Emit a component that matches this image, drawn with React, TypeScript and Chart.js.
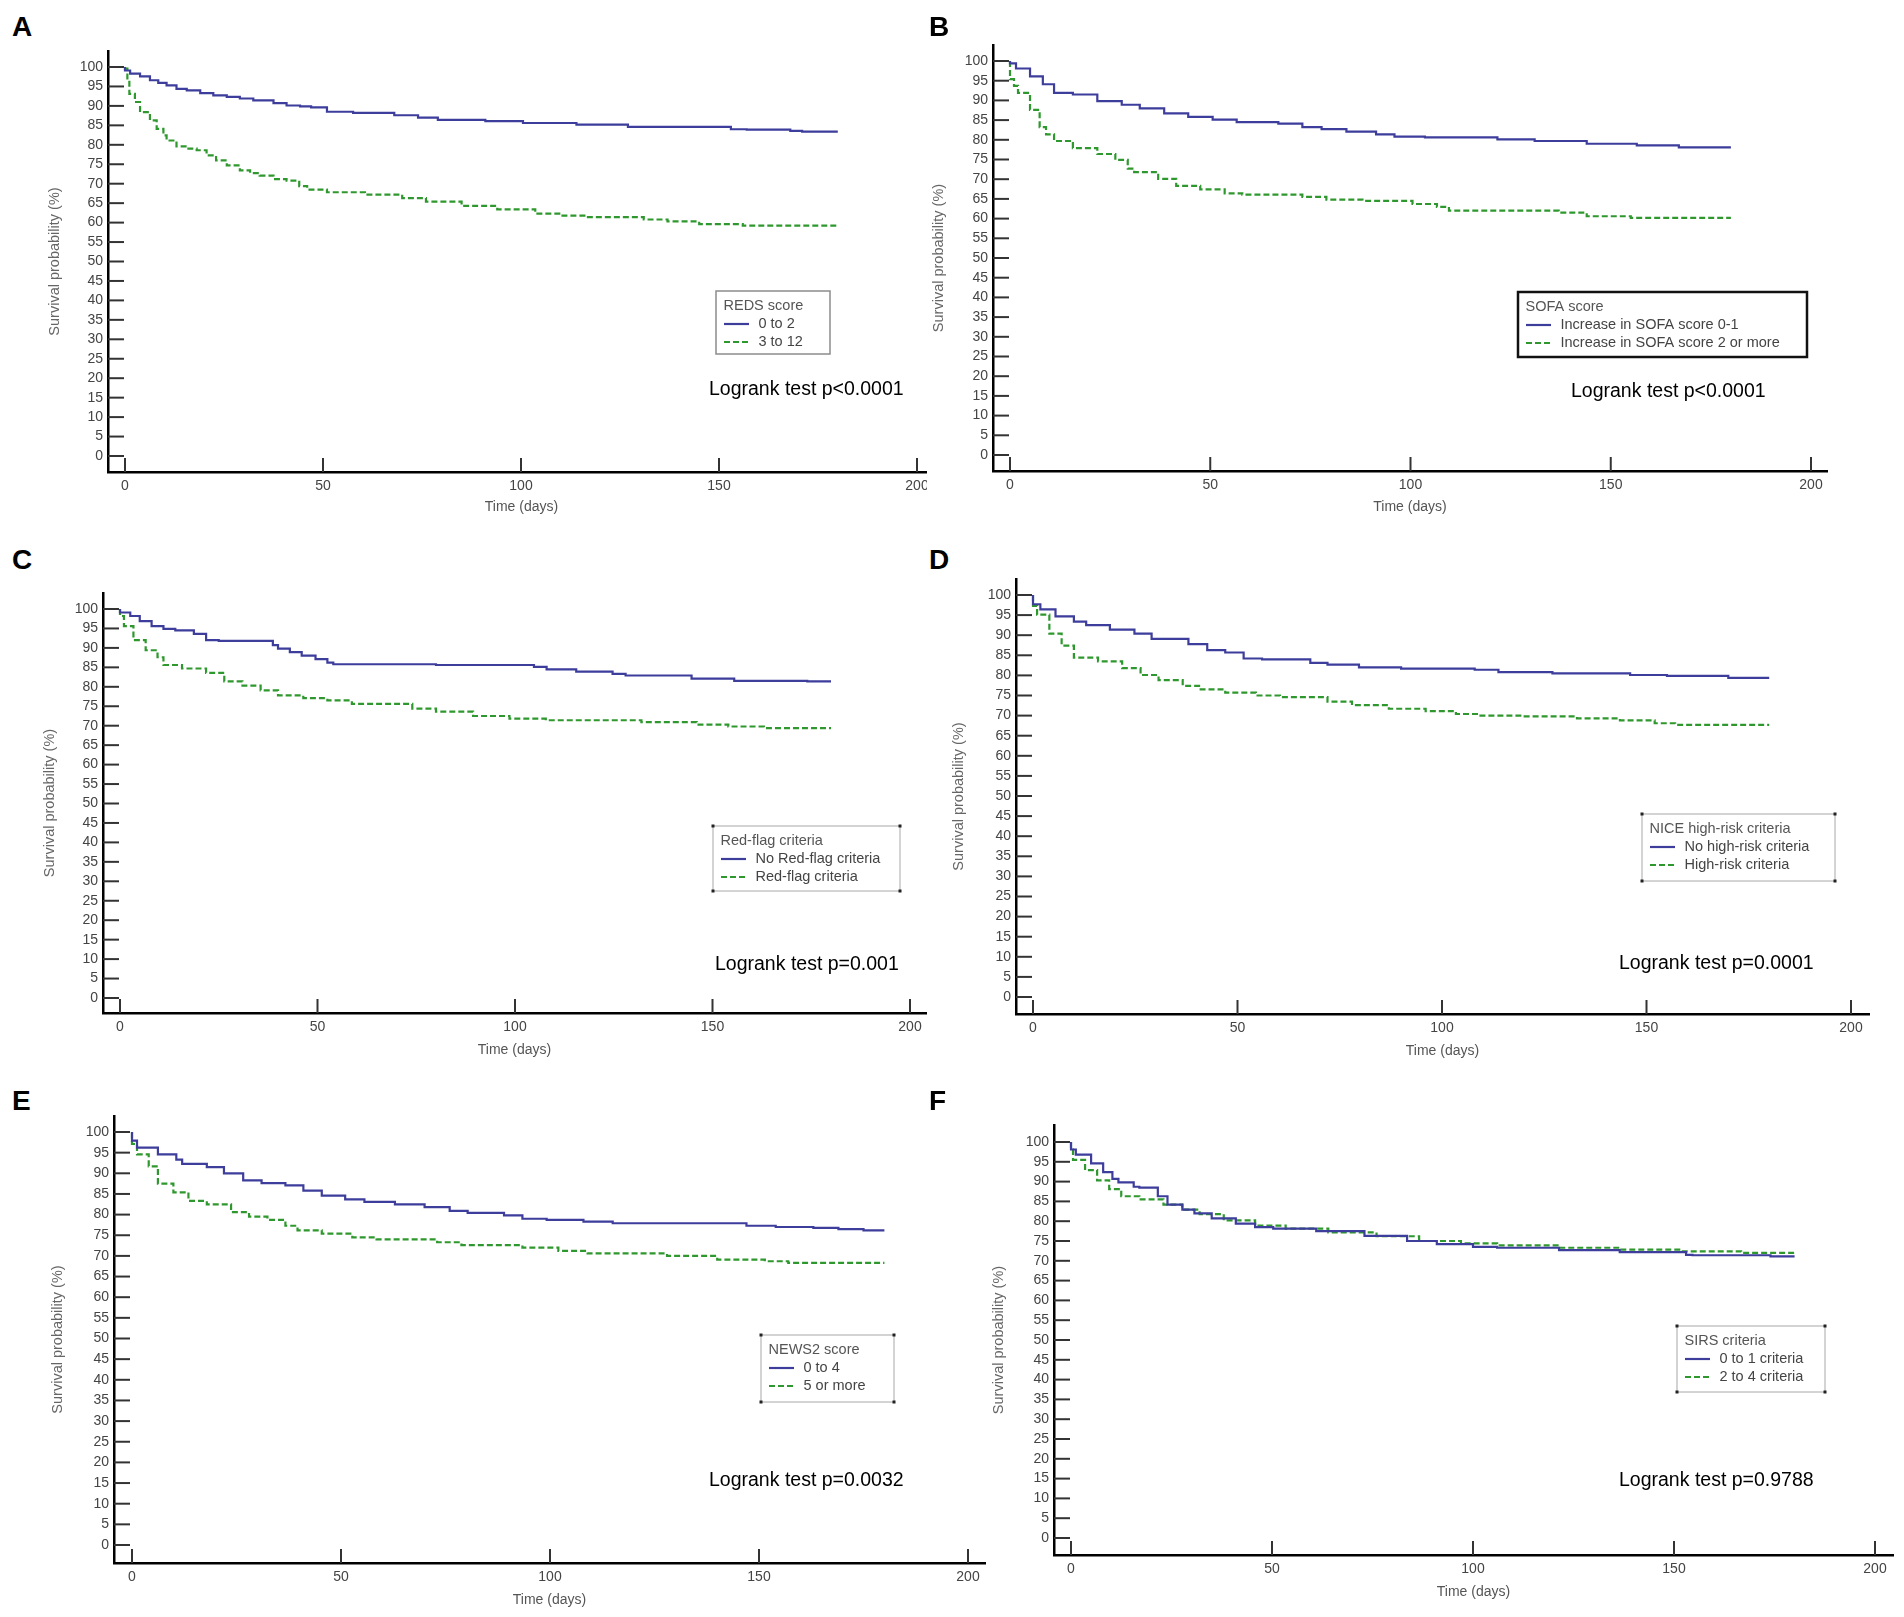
import React, { useEffect, useRef } from 'react';
import { Chart, registerables } from 'chart.js';

Chart.register(...registerables);

const X_TICKS = [0, 50, 100, 150, 200];
const Y_TICKS = [0, 5, 10, 15, 20, 25, 30, 35, 40, 45, 50, 55, 60, 65, 70, 75, 80, 85, 90, 95, 100];

// A - REDS score
const TIME_A_LOW = [0, 1.3, 3.8, 6.3, 8.4, 10.5, 13, 15.6, 19, 22.3, 25.7, 29, 32.4, 37.5, 40.8, 44.2, 47, 51, 57.6, 68, 74, 79, 91, 100.5, 114, 127, 153, 157, 168, 171, 180];
const SURV_A_LOW = [100, 99.1, 98.3, 97.6, 96.6, 95.9, 95.3, 94.4, 94.0, 93.3, 92.7, 92.3, 91.9, 91.4, 90.7, 90.1, 89.9, 89.6, 88.5, 88.2, 87.6, 87.0, 86.4, 86.1, 85.6, 85.2, 84.6, 84.0, 83.9, 83.6, 83.4];
const TIME_A_HIGH = [0, 0.6, 1.1, 2.5, 3.8, 6.3, 8, 9.7, 10.5, 13, 15.6, 18.1, 20.6, 23, 25.7, 29, 31.6, 34, 37.5, 40.8, 44, 46, 51, 60.6, 70, 76, 85, 94, 103.6, 110, 116, 131, 137, 145, 156, 180];
const SURV_A_HIGH = [100, 99.6, 96.6, 93.1, 91.0, 88.4, 86.3, 84.1, 82.4, 81.1, 79.6, 79.0, 78.6, 77.3, 76.0, 74.7, 73.4, 72.7, 72.1, 71.2, 70.8, 69.4, 68.5, 67.8, 67.2, 66.3, 65.4, 64.3, 63.4, 62.3, 61.8, 61.4, 60.8, 60.3, 59.6, 59.2];

// B - SOFA score
const TIME_B_LOW = [0, 1.5, 5, 8.2, 11, 15.7, 21.8, 27.9, 32.4, 38.5, 44.5, 50.6, 56.6, 67, 73, 77.8, 84, 91.4, 96, 103.6, 121.7, 131, 144, 156.5, 167, 180];
const SURV_B_LOW = [100, 99.4, 98.1, 96.1, 94.1, 91.9, 91.5, 89.8, 88.9, 88.0, 86.7, 85.8, 85.1, 84.5, 84.1, 83.2, 82.7, 82.1, 81.4, 80.8, 80.6, 80.1, 79.7, 79.0, 78.6, 78.1];
const TIME_B_HIGH = [0, 1, 2, 5, 7.4, 9, 11, 15.7, 21.8, 26.3, 29.4, 31, 37, 41.5, 47.5, 53.6, 58, 73, 79, 88, 100.5, 106.6, 109.6, 117, 137, 144, 155, 180];
const SURV_B_HIGH = [100, 95.4, 93.7, 91.9, 87.6, 83.2, 81.4, 79.7, 77.9, 76.4, 74.9, 72.7, 71.8, 70.1, 68.3, 67.4, 66.4, 66.1, 65.5, 64.8, 64.5, 63.7, 63.0, 62.0, 62.0, 61.5, 60.6, 60.2];

// C - Red-flag criteria
const TIME_C_LOW = [0, 2.6, 5, 8, 11, 14, 18.7, 21.8, 25, 38.7, 40, 43, 46, 49.5, 52.5, 54, 80, 104.8, 108, 115.5, 124.7, 128, 144.7, 155.5, 174, 180];
const SURV_C_LOW = [100, 99.1, 98.2, 96.9, 95.6, 94.9, 94.5, 93.6, 92.0, 91.8, 90.7, 89.8, 88.9, 88.0, 87.1, 86.2, 85.8, 85.6, 85.1, 84.5, 83.9, 83.3, 82.9, 82.1, 81.5, 81.4];
const TIME_C_HIGH = [0, 1, 3.4, 6.5, 9.5, 11, 15.7, 21.8, 26.4, 31, 35.6, 40, 46.4, 52.5, 58.7, 74, 80, 89.4, 98.6, 107.8, 117, 132, 146, 154, 163, 180];
const SURV_C_HIGH = [100, 98.2, 95.6, 92.0, 89.4, 87.6, 85.6, 84.7, 83.6, 81.4, 80.3, 79.1, 77.8, 77.1, 76.5, 75.6, 74.4, 73.6, 72.5, 71.8, 71.4, 71.4, 70.9, 70.3, 69.8, 69.4];

// D - NICE high-risk criteria
const TIME_D_LOW = [0, 1.8, 5.5, 10, 13, 18.8, 24.8, 29, 32, 38, 42.6, 47, 51.5, 56, 67.8, 72, 79.7, 90, 108, 113.8, 127, 146, 155, 170, 173, 180];
const SURV_D_LOW = [100, 97.7, 96.4, 94.7, 93.4, 92.5, 91.4, 90.4, 89.1, 89.1, 87.8, 86.3, 85.7, 84.2, 84.0, 83.1, 82.7, 82.0, 81.7, 81.4, 80.8, 80.5, 80.1, 79.9, 79.4, 79.4];
const TIME_D_HIGH = [0, 1, 4, 7, 10, 15.9, 21.8, 26.3, 30.7, 36.6, 41, 47, 54.5, 60.4, 72, 78, 87, 96, 103.4, 109, 119.7, 133, 143.5, 152, 157, 180];
const SURV_D_HIGH = [100, 97.3, 95.1, 90.4, 87.4, 84.4, 83.5, 81.8, 80.1, 78.8, 77.4, 76.5, 75.7, 75.0, 74.6, 73.5, 72.6, 71.7, 71.1, 70.4, 70.0, 69.8, 69.3, 68.8, 68.1, 67.7];

// E - NEWS2 score
const TIME_E_LOW = [0, 1.2, 6.2, 10.6, 12, 17.9, 22, 26.6, 31, 36.7, 41, 45.4, 51, 55.6, 62.9, 70, 76, 80.3, 89, 93.4, 99.2, 108, 115, 125, 147, 154, 163, 169, 175, 180];
const SURV_E_LOW = [100, 97.9, 96.2, 94.6, 93.3, 92.3, 91.5, 90.0, 88.3, 87.6, 87.1, 85.8, 84.6, 83.7, 83.1, 82.5, 81.8, 80.9, 80.4, 79.8, 79.0, 78.7, 78.3, 77.9, 77.9, 77.3, 77.0, 76.8, 76.5, 76.2];
const TIME_E_HIGH = [0, 1.2, 4, 6.2, 9.9, 13.5, 17.9, 23.7, 28, 32.4, 36.7, 39.6, 45.4, 52.7, 58.5, 73, 78.8, 93.4, 102, 109, 128, 140, 151.4, 157, 180];
const SURV_E_HIGH = [100, 97.1, 94.6, 91.7, 87.5, 85.4, 83.3, 82.5, 80.6, 79.5, 78.7, 77.3, 76.2, 75.4, 74.5, 74.0, 73.3, 72.6, 72.0, 71.2, 70.6, 70.0, 69.1, 68.7, 68.3];

// F - SIRS criteria
const TIME_F_LOW = [0, 1.2, 5, 8, 10.3, 11.8, 15.6, 17, 21.6, 24, 27.7, 30.7, 35, 41, 45.8, 50.3, 61, 73, 83.6, 91, 100, 106, 121.4, 136.5, 153, 154.6, 174, 180];
const SURV_F_LOW = [100, 98.1, 96.8, 94.6, 92.4, 90.7, 89.8, 88.7, 88.5, 86.3, 84.2, 82.9, 82.0, 80.7, 79.4, 78.5, 78.1, 77.5, 76.3, 75.0, 74.2, 73.5, 73.3, 72.7, 72.2, 71.5, 71.4, 71.1];
const TIME_F_HIGH = [0, 0.5, 3.5, 6.5, 9.5, 12.5, 17, 23, 27.7, 32, 38, 45.8, 53.4, 64, 76, 86.6, 97, 106, 121.4, 136.5, 151.6, 166.7, 180];
const SURV_F_HIGH = [100, 98.1, 95.5, 92.9, 90.3, 88.1, 86.3, 85.5, 84.2, 82.9, 81.8, 80.2, 78.9, 78.1, 77.2, 76.2, 75.0, 74.4, 73.9, 73.3, 72.8, 72.4, 72.0];

const BLUE = '#3d3d9c';
const GREEN = '#2e982e';
const FONT = "'Liberation Sans', Arial, sans-serif";

type Panel = {
  letter: string;
  letterX: number;
  letterY: number;
  // axis lines and tick positions on the page
  axisL: number;
  axisT: number;
  axisR: number;
  axisB: number;
  x0: number;
  x200: number;
  y0: number;
  y100: number;
  yTitleX: number;
  xTitleY: number;
  clipR?: number;
  legendBox: { x: number; y: number; w: number; h: number; style: 'gray' | 'black' | 'dots' };
  legendTitle: string;
  labels: string[];
  logrank: { text: string; x: number; y: number };
  low: [number[], number[]];
  high: [number[], number[]];
};

const PANELS: Panel[] = [
  {
    letter: 'A', letterX: 12, letterY: 13,
    axisL: 108, axisT: 51, axisR: 935, axisB: 472, x0: 125, x200: 917, y0: 456, y100: 67,
    yTitleX: 55, xTitleY: 507, clipR: 927,
    legendBox: { x: 716, y: 291, w: 114, h: 63, style: 'gray' },
    legendTitle: 'REDS score', labels: ['0 to 2', '3 to 12'],
    logrank: { text: 'Logrank test p<0.0001', x: 709, y: 390 },
    low: [TIME_A_LOW, SURV_A_LOW], high: [TIME_A_HIGH, SURV_A_HIGH],
  },
  {
    letter: 'B', letterX: 929, letterY: 13,
    axisL: 993, axisT: 45, axisR: 1827, axisB: 471, x0: 1010, x200: 1811, y0: 455, y100: 61,
    yTitleX: 939, xTitleY: 507,
    legendBox: { x: 1518, y: 292, w: 289, h: 65, style: 'black' },
    legendTitle: 'SOFA score', labels: ['Increase in SOFA score 0-1', 'Increase in SOFA score 2 or more'],
    logrank: { text: 'Logrank test p<0.0001', x: 1571, y: 392 },
    low: [TIME_B_LOW, SURV_B_LOW], high: [TIME_B_HIGH, SURV_B_HIGH],
  },
  {
    letter: 'C', letterX: 12, letterY: 546,
    axisL: 103, axisT: 593, axisR: 926, axisB: 1013, x0: 120, x200: 910, y0: 998, y100: 609,
    yTitleX: 50, xTitleY: 1050,
    legendBox: { x: 713, y: 826, w: 187, h: 65, style: 'dots' },
    legendTitle: 'Red-flag criteria', labels: ['No Red-flag criteria', 'Red-flag criteria'],
    logrank: { text: 'Logrank test p=0.001', x: 715, y: 965 },
    low: [TIME_C_LOW, SURV_C_LOW], high: [TIME_C_HIGH, SURV_C_HIGH],
  },
  {
    letter: 'D', letterX: 929, letterY: 546,
    axisL: 1016, axisT: 579, axisR: 1869, axisB: 1014, x0: 1033, x200: 1851, y0: 997, y100: 595,
    yTitleX: 959, xTitleY: 1051,
    legendBox: { x: 1642, y: 814, w: 193, h: 67, style: 'dots' },
    legendTitle: 'NICE high-risk criteria', labels: ['No high-risk criteria', 'High-risk criteria'],
    logrank: { text: 'Logrank test p=0.0001', x: 1619, y: 964 },
    low: [TIME_D_LOW, SURV_D_LOW], high: [TIME_D_HIGH, SURV_D_HIGH],
  },
  {
    letter: 'E', letterX: 12, letterY: 1087,
    axisL: 114, axisT: 1116, axisR: 985, axisB: 1563, x0: 132, x200: 968, y0: 1545, y100: 1132,
    yTitleX: 58, xTitleY: 1600,
    legendBox: { x: 761, y: 1335, w: 133, h: 67, style: 'dots' },
    legendTitle: 'NEWS2 score', labels: ['0 to 4', '5 or more'],
    logrank: { text: 'Logrank test p=0.0032', x: 709, y: 1481 },
    low: [TIME_E_LOW, SURV_E_LOW], high: [TIME_E_HIGH, SURV_E_HIGH],
  },
  {
    letter: 'F', letterX: 929, letterY: 1087,
    axisL: 1054, axisT: 1125, axisR: 1893, axisB: 1555, x0: 1071, x200: 1875, y0: 1538, y100: 1142,
    yTitleX: 999, xTitleY: 1592,
    legendBox: { x: 1677, y: 1326, w: 148, h: 66, style: 'dots' },
    legendTitle: 'SIRS criteria', labels: ['0 to 1 criteria', '2 to 4 criteria'],
    logrank: { text: 'Logrank test p=0.9788', x: 1619, y: 1481 },
    low: [TIME_F_LOW, SURV_F_LOW], high: [TIME_F_HIGH, SURV_F_HIGH],
  },
];

const KmPanel = ({ p }: { p: Panel }) => {
  const canvasRef = useRef<HTMLCanvasElement>(null);
  const left = Math.round(p.yTitleX - 9);
  const top = p.axisT - 18;
  const right = p.axisR + 8;
  const bottom = Math.round(p.xTitleY + 9);
  const width = right - left;
  const height = bottom - top;

  useEffect(() => {
    const pxX = (p.x200 - p.x0) / 200;
    const pxY = (p.y0 - p.y100) / 100;
    const xMin = -(p.x0 - p.axisL) / pxX;
    const xMax = 200 + (p.axisR - p.x200) / pxX;
    const yMin = -(p.axisB - p.y0) / pxY;
    const yMax = 100 + (p.y100 - p.axisT) / pxY;

    const extras = {
      id: 'kmExtras',
      beforeDatasetsDraw(chart: any) {
        const { ctx, chartArea, scales } = chart;
        ctx.save();
        ctx.strokeStyle = '#333';
        ctx.lineWidth = 2;
        Y_TICKS.forEach((v) => {
          const y = scales.y.getPixelForValue(v);
          ctx.beginPath();
          ctx.moveTo(chartArea.left, y);
          ctx.lineTo(chartArea.left + 16, y);
          ctx.stroke();
        });
        X_TICKS.forEach((v) => {
          const x = scales.x.getPixelForValue(v);
          ctx.beginPath();
          ctx.moveTo(x, chartArea.bottom);
          ctx.lineTo(x, chartArea.bottom - 14);
          ctx.stroke();
        });
        ctx.restore();
      },
      afterDraw(chart: any) {
        const { ctx } = chart;
        const b = p.legendBox;
        const bx = b.x - left;
        const by = b.y - top;
        ctx.save();
        if (b.style === 'black') {
          ctx.strokeStyle = '#111';
          ctx.lineWidth = 2.5;
        } else if (b.style === 'gray') {
          ctx.strokeStyle = '#8c8c8c';
          ctx.lineWidth = 1.5;
        } else {
          ctx.strokeStyle = '#a8a8a8';
          ctx.lineWidth = 1;
        }
        ctx.strokeRect(bx, by, b.w, b.h);
        if (b.style === 'dots') {
          ctx.fillStyle = '#222';
          [[bx, by], [bx + b.w, by], [bx, by + b.h], [bx + b.w, by + b.h]].forEach(([cx, cy]) => {
            ctx.fillRect(cx - 1.5, cy - 1.5, 3, 3);
          });
        }
        ctx.textBaseline = 'middle';
        ctx.textAlign = 'left';
        ctx.font = `14.5px ${FONT}`;
        ctx.fillStyle = '#555';
        ctx.fillText(p.legendTitle, bx + 7.5, by + 14.5);
        chart.data.datasets.forEach((ds: any, i: number) => {
          const y = by + 33 + 18 * i;
          ctx.strokeStyle = ds.borderColor;
          ctx.lineWidth = 2.2;
          ctx.setLineDash(ds.borderDash || []);
          ctx.beginPath();
          ctx.moveTo(bx + 8, y);
          ctx.lineTo(bx + 33, y);
          ctx.stroke();
          ctx.setLineDash([]);
          ctx.fillStyle = '#444';
          ctx.fillText(ds.label, bx + 42.5, y);
        });
        ctx.font = `19.5px ${FONT}`;
        ctx.fillStyle = '#000';
        ctx.fillText(p.logrank.text, p.logrank.x - left, p.logrank.y - top);
        ctx.restore();
      },
    };

    const toPoints = ([t, s]: [number[], number[]]) => t.map((x, i) => ({ x, y: s[i] }));

    const chart = new Chart(canvasRef.current as HTMLCanvasElement, {
      type: 'line',
      data: {
        datasets: [
          {
            label: p.labels[0],
            data: toPoints(p.low),
            borderColor: BLUE,
            borderWidth: 2.2,
            stepped: 'after',
            pointRadius: 0,
            fill: false,
          },
          {
            label: p.labels[1],
            data: toPoints(p.high),
            borderColor: GREEN,
            borderWidth: 2.2,
            borderDash: [6, 3],
            stepped: 'after',
            pointRadius: 0,
            fill: false,
          },
        ],
      },
      options: {
        animation: false,
        responsive: false,
        devicePixelRatio: 1,
        layout: { padding: { top: 18, right: 8, left: 0, bottom: 0 } },
        plugins: { legend: { display: false }, tooltip: { enabled: false } },
        scales: {
          x: {
            type: 'linear',
            min: xMin,
            max: xMax,
            afterBuildTicks: (s: any) => {
              s.ticks = X_TICKS.map((value) => ({ value }));
            },
            afterFit: (s: any) => {
              s.height = bottom - p.axisB;
            },
            grid: { display: false, drawTicks: false, tickLength: 0 },
            border: { display: true, color: '#000', width: 2.5 },
            ticks: {
              autoSkip: false,
              maxRotation: 0,
              padding: 6,
              color: '#444',
              font: { family: FONT, size: 14 },
            },
            title: {
              display: true,
              text: 'Time (days)',
              color: '#555',
              padding: 0,
              font: { family: FONT, size: 14 },
            },
          },
          y: {
            type: 'linear',
            min: yMin,
            max: yMax,
            afterBuildTicks: (s: any) => {
              s.ticks = Y_TICKS.map((value) => ({ value }));
            },
            afterFit: (s: any) => {
              s.width = p.axisL - left;
            },
            grid: { display: false, drawTicks: false, tickLength: 0 },
            border: { display: true, color: '#000', width: 2.5 },
            ticks: {
              autoSkip: false,
              padding: 5,
              color: '#444',
              font: { family: FONT, size: 14 },
            },
            title: {
              display: true,
              text: 'Survival probability (%)',
              color: '#666',
              padding: 0,
              font: { family: FONT, size: 14.5 },
            },
          },
        },
      },
      plugins: [extras],
    } as any);

    return () => {
      chart.destroy();
    };
  }, [p]);

  return (
    <>
      <div
        style={{
          position: 'absolute',
          left,
          top,
          width: (p.clipR ?? right) - left,
          height,
          overflow: 'hidden',
        }}
      >
        <canvas ref={canvasRef} width={width} height={height} style={{ width, height, display: 'block' }} />
      </div>
      <div
        style={{
          position: 'absolute',
          left: p.letterX,
          top: p.letterY,
          font: `bold 28px ${FONT}`,
          lineHeight: '28px',
          color: '#000',
        }}
      >
        {p.letter}
      </div>
    </>
  );
};

const App = () => {
  useEffect(() => {
    document.body.style.margin = '0';
  }, []);

  return (
    <div style={{ position: 'relative', width: 1904, height: 1617, background: '#fff', overflow: 'hidden' }}>
      {PANELS.map((p) => (
        <KmPanel key={p.letter} p={p} />
      ))}
    </div>
  );
};

export default App;
